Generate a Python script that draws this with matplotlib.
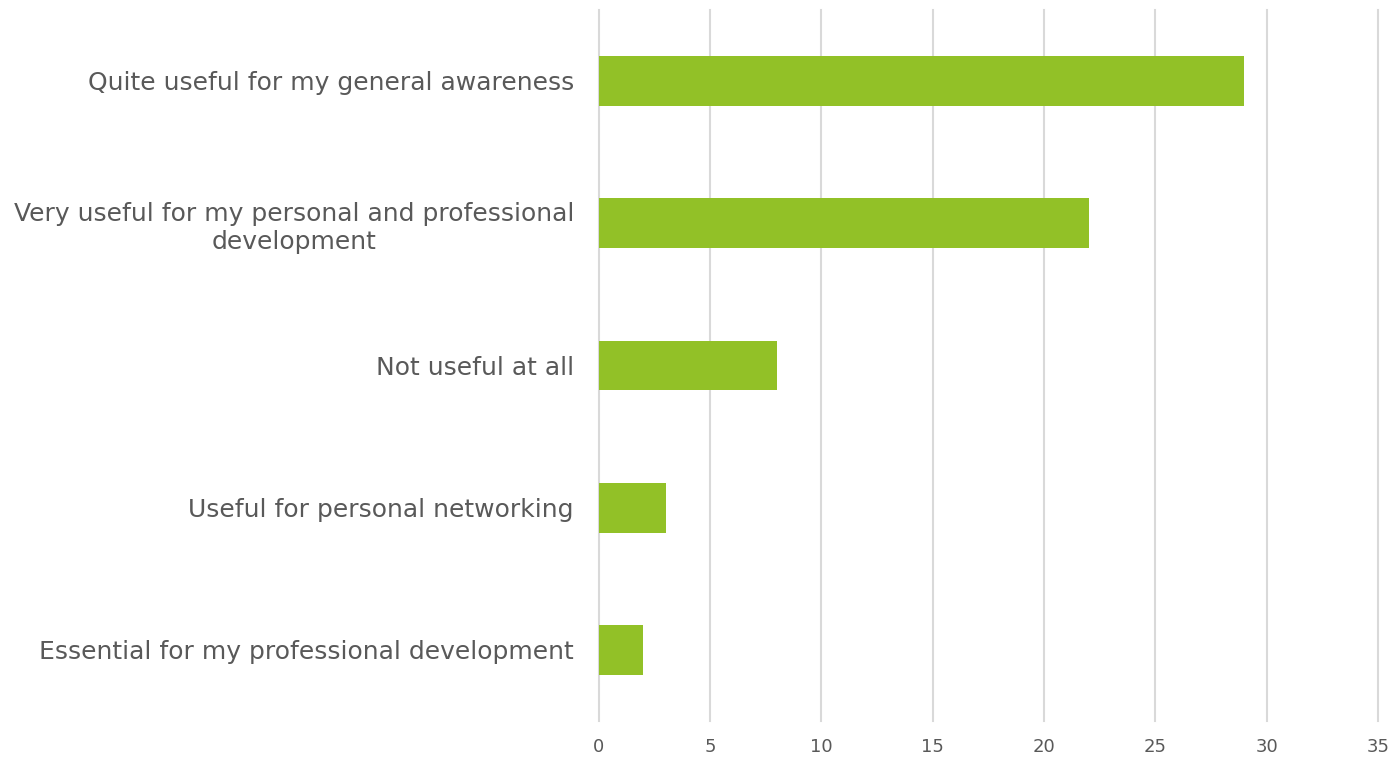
import matplotlib
matplotlib.use("Agg")
import matplotlib.pyplot as plt

categories = [
    "Quite useful for my general awareness",
    "Very useful for my personal and professional\ndevelopment",
    "Not useful at all",
    "Useful for personal networking",
    "Essential for my professional development",
]
values = [29, 22, 8, 3, 2]
x_ticks = [0, 5, 10, 15, 20, 25, 30, 35]

plt.rcParams['font.family'] = ['DejaVu Sans']

fig = plt.figure(figsize=(13.96, 7.59), dpi=100)
ax = fig.add_axes([0.429, 0.05, 0.558, 0.937])

ypos = list(range(len(categories)))
ax.barh(ypos, values, height=0.35, color="#92C127", zorder=3)
ax.set_ylim(len(categories) - 0.5, -0.5)
ax.set_xlim(0, 35)
ax.set_xticks(x_ticks)
ax.set_yticks(ypos)
ax.set_yticklabels(categories, fontsize=18, color="#595959", ha="right",
                   multialignment="center")
ax.tick_params(axis="y", length=0, pad=18)
ax.tick_params(axis="x", length=0, labelsize=13, labelcolor="#595959", pad=12)
# gridlines drawn by hand so the ones on the axes edges are not half clipped
for xt in x_ticks:
    ax.axvline(xt, color="#D9D9D9", linewidth=1.5, zorder=0, clip_on=False)
for s in ax.spines.values():
    s.set_visible(False)

fig.savefig("out.png", dpi=100)
